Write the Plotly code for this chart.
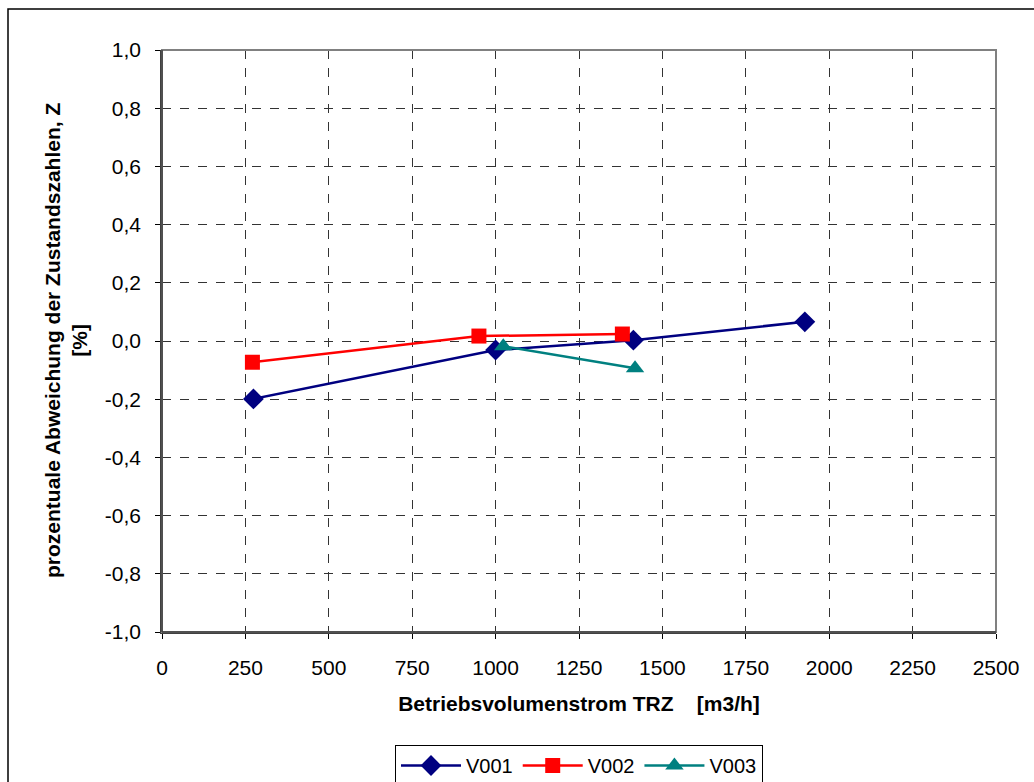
import plotly.graph_objects as go

v001_x = [274, 1000, 1413, 1927]
v001_y = [-0.199, -0.031, 0.003, 0.066]
v002_x = [271, 950, 1380]
v002_y = [-0.073, 0.017, 0.024]
v003_x = [1023, 1418]
v003_y = [-0.018, -0.094]

x_ticks = [0, 250, 500, 750, 1000, 1250, 1500, 1750, 2000, 2250, 2500]
y_ticks = [-1.0, -0.8, -0.6, -0.4, -0.2, 0.0, 0.2, 0.4, 0.6, 0.8, 1.0]
y_labels = ["-1,0", "-0,8", "-0,6", "-0,4", "-0,2", "0,0", "0,2", "0,4", "0,6", "0,8", "1,0"]

FONT = "Liberation Sans, Arial, sans-serif"

fig = go.Figure()
fig.add_trace(go.Scatter(x=v001_x, y=v001_y, name="V001", mode="lines+markers",
                         line=dict(color="#000080", width=2.5),
                         marker=dict(symbol="diamond", size=16, color="#000080")))
fig.add_trace(go.Scatter(x=v002_x, y=v002_y, name="V002", mode="lines+markers",
                         line=dict(color="#FF0000", width=2.5),
                         marker=dict(symbol="square", size=15, color="#FF0000")))
fig.add_trace(go.Scatter(x=v003_x, y=v003_y, name="V003", mode="lines+markers",
                         line=dict(color="#008080", width=2.5),
                         marker=dict(symbol="triangle-up", size=16, color="#008080")))

axis_font = dict(family=FONT, size=21, color="black")

fig.update_layout(
    width=1034, height=782,
    margin=dict(l=162, r=38, t=50, b=150),
    paper_bgcolor="white", plot_bgcolor="white",
    font=dict(family=FONT, color="black"),
    xaxis=dict(range=[0, 2500], tickvals=x_ticks, ticktext=[str(v) for v in x_ticks],
               showgrid=True, gridcolor="#333333", griddash="dash", gridwidth=1,
               ticks="outside", ticklen=5, tickcolor="black", ticklabelstandoff=11,
               showline=True, linecolor="#404040", linewidth=1.5,
               zeroline=False, tickfont=axis_font, automargin=False,
               title=dict(text="<b>Betriebsvolumenstrom TRZ    [m3/h]</b>",
                          font=dict(family=FONT, size=21), standoff=18)),
    yaxis=dict(range=[-1.0, 1.0], tickvals=y_ticks, ticktext=y_labels,
               showgrid=True, gridcolor="#333333", griddash="dash", gridwidth=1,
               ticks="outside", ticklen=5, tickcolor="black", ticklabelstandoff=10,
               showline=True, linecolor="#404040", linewidth=1.5,
               zeroline=False, tickfont=axis_font, automargin=False),
    legend=dict(orientation="h", x=0.5, xanchor="center",
                yref="container", y=1 - 745 / 782, yanchor="top",
                bordercolor="black", borderwidth=1,
                font=dict(family=FONT, size=20),
                itemwidth=60, tracegroupgap=0),
    showlegend=True,
)

# y-axis title
fig.add_annotation(text="<b>prozentuale Abweichung der Zustandszahlen, Z<br>[%]</b>",
                   xref="paper", yref="paper", x=(66 - 162) / 834, y=(632 - 341) / 582,
                   xanchor="center", yanchor="middle",
                   textangle=-90, showarrow=False,
                   font=dict(family=FONT, size=21))

# plot area border
fig.add_shape(type="rect", xref="paper", yref="paper", x0=0, y0=0, x1=1, y1=1,
              line=dict(color="#808080", width=2), layer="above")
fig.add_shape(type="line", xref="paper", yref="paper", x0=0, y0=0, x1=0, y1=1,
              line=dict(color="#404040", width=1.5), layer="above")
fig.add_shape(type="line", xref="paper", yref="paper", x0=0, y0=0, x1=1, y1=0,
              line=dict(color="#404040", width=1.5), layer="above")
# outer chart border
fig.add_shape(type="rect", xref="paper", yref="paper",
              x0=(8 - 162) / 834, y0=(632 - 800) / 582,
              x1=(1045 - 162) / 834, y1=(632 - 9) / 582,
              line=dict(color="black", width=1.5))

fig.write_html("out.html")
